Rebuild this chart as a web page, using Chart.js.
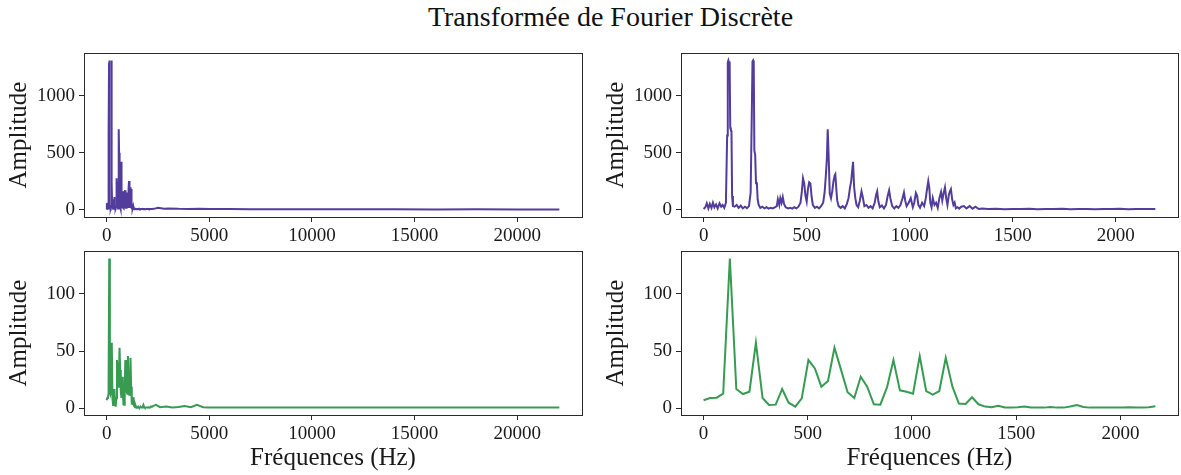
<!DOCTYPE html>
<html>
<head>
<meta charset="utf-8">
<script src="https://cdn.jsdelivr.net/npm/chart.js@4/dist/chart.umd.min.js"></script>
<style>
  body { margin: 0; background: white; }
  #wrap { position: relative; width: 1181px; height: 475px; overflow: hidden; }
  #title { position: absolute; left: 40px; top: 3px; width: 1141px; text-align: center;
           font-family: "Liberation Serif", serif; font-size: 28px; line-height: 28px; color: #111; }
  canvas { position: absolute; }
</style>
</head>
<body>
<div id="wrap">
  <div id="title">Transformée de Fourier Discrète</div>
  <canvas id="tl" width="592" height="200" style="left:0px;top:45px"></canvas>
  <canvas id="tr" width="584" height="200" style="left:597px;top:45px"></canvas>
  <canvas id="bl" width="592" height="232" style="left:0px;top:243px"></canvas>
  <canvas id="br" width="584" height="232" style="left:597px;top:243px"></canvas>
</div>
<script>
// purple spectrum, first part (0 - 2192 Hz)
const purpleFreq = [
    0, 8, 15, 23, 30, 38, 45, 52, 60, 68,
    77, 85, 92, 100, 108, 114, 117, 120, 123, 126,
    129, 132, 135, 138, 142, 150, 160, 170, 180, 190,
    200, 210, 220, 228, 233, 237, 240, 243, 246, 250,
    254, 258, 262, 267, 275, 285, 295, 305, 315, 325,
    335, 345, 355, 360, 367, 372, 378, 384, 390, 398,
    410, 420, 430, 440, 450, 460, 470, 476, 482, 488,
    494, 500, 506, 512, 518, 524, 530, 540, 550, 560,
    570, 580, 587, 593, 598, 602, 606, 612, 618, 624,
    630, 636, 639, 643, 648, 655, 665, 675, 685, 695,
    703, 710, 716, 720, 725, 730, 736, 742, 750, 758,
    766, 772, 780, 790, 800, 810, 820, 830, 837, 842,
    848, 855, 865, 875, 885, 893, 900, 906, 915, 925,
    935, 945, 955, 965, 972, 978, 985, 995, 1005, 1015,
    1022, 1030, 1036, 1042, 1050, 1060, 1070, 1078, 1084, 1090,
    1095, 1100, 1106, 1112, 1120, 1128, 1136, 1144, 1152, 1158,
    1164, 1171, 1177, 1183, 1190, 1195, 1200, 1206, 1212, 1218,
    1224, 1232, 1240, 1250, 1263, 1275, 1291, 1305, 1319, 1335,
    1350, 1380, 1420, 1460, 1500, 1540, 1580, 1620, 1660, 1700,
    1740, 1780, 1820, 1860, 1900, 1940, 1980, 2020, 2060, 2100,
    2140, 2192
];
const purpleAmp = [
    5, 20, 55, 10, 50, 15, 60, 20, 45, 10,
    55, 25, 40, 15, 60, 650, 1290, 1310, 1290, 1300,
    720, 700, 690, 120, 30, 25, 40, 15, 35, 10,
    25, 12, 30, 150, 770, 1300, 1310, 1290, 520, 480,
    230, 240, 90, 40, 15, 25, 10, 20, 8, 15,
    10, 20, 30, 90, 40, 100, 60, 110, 50, 20,
    10, 15, 8, 20, 10, 25, 60, 150, 275, 230,
    120, 70, 180, 240, 230, 110, 40, 15, 25, 10,
    30, 60, 150, 300, 450, 705, 500, 140, 100, 160,
    250, 300, 310, 200, 80, 30, 15, 30, 10, 50,
    100, 190, 250, 330, 420, 200, 100, 40, 20, 80,
    160, 110, 30, 40, 15, 30, 10, 60, 130, 160,
    70, 20, 35, 10, 40, 120, 170, 100, 30, 10,
    30, 15, 40, 100, 150, 80, 30, 60, 100, 20,
    60, 145, 120, 40, 15, 60, 30, 100, 180, 250,
    190, 60, 20, 100, 40, 60, 15, 100, 155, 80,
    140, 195, 100, 40, 130, 160, 180, 90, 40, 60,
    10, 20, 8, 25, 30, 10, 30, 8, 25, 5,
    10, 4, 6, 3, 5, 4, 8, 3, 5, 4,
    6, 3, 5, 4, 3, 5, 4, 6, 3, 4,
    5, 4
];
// purple spectrum, rest (up to 22050 Hz)
const purpleTailFreq = [2300, 2500, 2800, 3000, 3500, 4000, 4500, 5000, 6000, 7000, 8000, 9000, 10000, 12000, 14000, 16000, 18000, 20000, 22050];
const purpleTailAmp = [6, 15, 8, 10, 6, 5, 8, 4, 5, 3, 3, 2, 2, 2, 2, 1, 2, 1, 1];

// green spectrum (coarser), first part
const greenFreq = [
    0, 31, 63, 94, 126, 157, 189, 220, 251, 283,
    314, 346, 377, 408, 440, 471, 503, 534, 565, 597,
    628, 660, 691, 723, 754, 785, 817, 848, 880, 911,
    942, 974, 1005, 1037, 1068, 1100, 1131, 1162, 1194, 1225,
    1257, 1288, 1319, 1351, 1382, 1414, 1445, 1476, 1508, 1539,
    1571, 1602, 1634, 1665, 1696, 1728, 1759, 1791, 1822, 1853,
    1885, 1916, 1948, 1979, 2011, 2042, 2073, 2105, 2136, 2168
];
const greenAmp = [
    7, 9, 9.3, 12.8, 131, 16.9, 12.5, 14.5, 57.3, 9,
    2.9, 3.2, 16.9, 4.9, 1.5, 8.7, 42.2, 34.9, 18.9, 23.9,
    52.9, 33.4, 14, 9, 27.6, 18.9, 3.5, 3.2, 18.3, 42.2,
    15.7, 14.5, 12.8, 45.7, 15.1, 11.9, 15.1, 44.2, 18.9, 4.1,
    3.8, 9.6, 3.5, 1.5, 0.9, 2.3, 0.7, 0.6, 0.9, 1.5,
    0.7, 0.6, 0.6, 1.2, 0.6, 0.6, 1.5, 2.9, 1.2, 0.6,
    0.6, 0.6, 0.6, 0.7, 0.7, 0.9, 0.6, 0.6, 0.9, 1.7
];
const greenTailFreq = [2200, 2400, 2600, 2900, 3200, 3500, 3800, 4100, 4400, 4700, 5000, 5500, 6000, 7000, 8000, 10000, 12000, 14000, 16000, 18000, 20000, 22050];
const greenTailAmp = [1.5, 3, 1, 1.5, 0.8, 1.2, 2, 1, 3, 1, 0.8, 0.7, 0.8, 0.6, 0.7, 0.6, 0.6, 0.6, 0.6, 0.6, 0.6, 0.6];

// tick labels
const xTicksFull = [0, 5000, 10000, 15000, 20000];
const xTicksZoom = [0, 500, 1000, 1500, 2000];
const yTicksPurple = [0, 500, 1000];
const yTicksGreen = [0, 50, 100];

const PURPLE = "#523c9c";
const GREEN = "#379b52";
const FONT = "'Liberation Serif', serif";

function toPoints(xs, ys) {
    return xs.map(function (x, i) { return { x: x, y: ys[i] }; });
}

// draws the four spines around the plot area
const boxPlugin = {
    id: "box",
    afterDraw: function (chart) {
        const a = chart.chartArea;
        const ctx = chart.ctx;
        ctx.save();
        ctx.strokeStyle = "#2a2a2a";
        ctx.lineWidth = 1;
        ctx.strokeRect(Math.round(a.left) + 0.5, Math.round(a.top) + 0.5,
            Math.round(a.right - a.left), Math.round(a.bottom - a.top));
        ctx.restore();
    },
};

function makePanel(id, points, color, xr, yr, xTicks, yTicks, xTitle, padRight) {
    const xHeight = xTitle ? 60 : 28;
    return new Chart(document.getElementById(id).getContext("2d"), {
        type: "line",
        data: {
            datasets: [{
                data: points,
                borderColor: color,
                borderWidth: 2,
                pointRadius: 0,
                tension: 0,
                fill: false,
            }],
        },
        options: {
            responsive: false,
            animation: false,
            events: [],
            layout: { padding: { left: 0, top: 8, right: padRight, bottom: 0 } },
            plugins: { legend: { display: false }, tooltip: { enabled: false } },
            scales: {
                x: {
                    type: "linear",
                    min: xr[0],
                    max: xr[1],
                    afterBuildTicks: function (s) { s.ticks = xTicks.map(function (v) { return { value: v }; }); },
                    afterFit: function (s) {
                        s.height = xHeight;
                        s.paddingLeft = 0;
                        s.paddingRight = 0;
                    },
                    grid: { drawOnChartArea: false, drawTicks: true, tickLength: 5, color: "#2a2a2a" },
                    border: { display: false },
                    ticks: {
                        padding: 3,
                        maxRotation: 0,
                        color: "#1a1a1a",
                        font: { family: FONT, size: 19 },
                        callback: function (v) { return String(v); },
                    },
                    title: {
                        display: !!xTitle,
                        text: xTitle || "",
                        color: "#1a1a1a",
                        font: { family: FONT, size: 25 },
                        padding: { top: 0, bottom: 2 },
                    },
                },
                y: {
                    min: yr[0],
                    max: yr[1],
                    afterBuildTicks: function (s) { s.ticks = yTicks.map(function (v) { return { value: v }; }); },
                    afterFit: function (s) {
                        s.width = 84;
                        s.paddingTop = 0;
                        s.paddingBottom = 0;
                    },
                    grid: { drawOnChartArea: false, drawTicks: true, tickLength: 5, color: "#2a2a2a" },
                    border: { display: false },
                    ticks: {
                        padding: 4,
                        color: "#1a1a1a",
                        font: { family: FONT, size: 19 },
                        callback: function (v) { return String(v); },
                    },
                    title: {
                        display: true,
                        text: "Amplitude",
                        color: "#1a1a1a",
                        font: { family: FONT, size: 25 },
                        padding: { top: 4, bottom: 0 },
                    },
                },
            },
        },
        plugins: [boxPlugin],
    });
}

document.addEventListener("DOMContentLoaded", function () {
    const purpleZoom = toPoints(purpleFreq, purpleAmp);
    const purpleAll = purpleZoom.concat(toPoints(purpleTailFreq, purpleTailAmp));
    const greenZoom = toPoints(greenFreq, greenAmp);
    const greenAll = greenZoom.concat(toPoints(greenTailFreq, greenTailAmp));

    makePanel("tl", purpleAll, PURPLE, [-1102.5, 23152.5], [-65.5, 1375.5], xTicksFull, yTicksPurple, null, 10);
    makePanel("tr", purpleZoom, PURPLE, [-110, 2302], [-65.5, 1375.5], xTicksZoom, yTicksPurple, null, 3);
    makePanel("bl", greenAll, GREEN, [-1102.5, 23152.5], [-5.85, 137.5], xTicksFull, yTicksGreen, "Fréquences (Hz)", 10);
    makePanel("br", greenZoom, GREEN, [-108.4, 2276.4], [-5.85, 137.5], xTicksZoom, yTicksGreen, "Fréquences (Hz)", 3);
});
</script>
</body>
</html>
